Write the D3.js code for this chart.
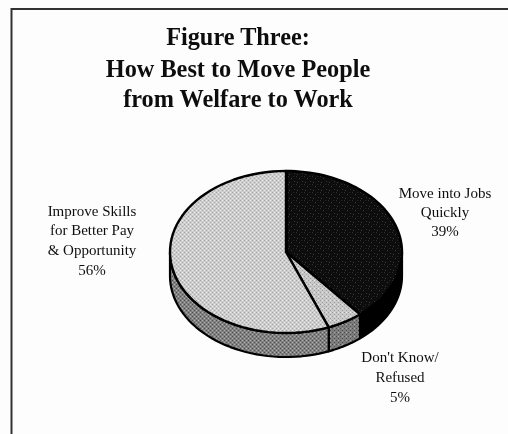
<!DOCTYPE html>
<html><head><meta charset="utf-8">
<script src="https://cdn.jsdelivr.net/npm/d3@7"></script>
<style>html,body{margin:0;padding:0;background:#fdfdfd}svg{display:block}
text{font-family:"Liberation Serif",serif;fill:#111}</style></head>
<body><div id="c"></div>
<script>
const titleLines = ["Figure Three:", "How Best to Move People", "from Welfare to Work"];
const categories = ["Move into Jobs Quickly", "Don't Know/Refused", "Improve Skills for Better Pay & Opportunity"];
const values = [39, 5, 56];
const labelLines = [["Move into Jobs", "Quickly", "39%"], ["Don't Know/", "Refused", "5%"], ["Improve Skills", "for Better Pay", "& Opportunity", "56%"]];

const W = 508, H = 434, cx = 286, cy = 252, rx = 116, ry = 81, depth = 24;
const svg = d3.select("#c").append("svg").attr("width", W).attr("height", H);
const defs = svg.append("defs");

function pattern(id, bg, dots, size) {
  const p = defs.append("pattern").attr("id", id).attr("patternUnits", "userSpaceOnUse")
    .attr("width", size).attr("height", size);
  p.append("rect").attr("width", size).attr("height", size).attr("fill", bg);
  dots.forEach(d => p.append("rect").attr("x", d[0]).attr("y", d[1]).attr("width", 1).attr("height", 1).attr("fill", d[2]));
}
pattern("pDark", "#0a0a0a", [[0,0,"#2e2e2e"],[3,2,"#3a3a3a"],[6,5,"#303030"],[1,6,"#3c3c3c"],[5,0,"#262626"]], 8);
pattern("pLight", "#cdcdcd", [[0,0,"#a2a2a2"],[2,2,"#a8a8a8"],[2,0,"#ececec"],[0,2,"#e6e6e6"]], 4);
pattern("pSmall", "#c8c8c8", [[0,0,"#9a9a9a"],[2,2,"#a0a0a0"],[2,0,"#e8e8e8"]], 4);
pattern("pWallGray", "#808080", [[0,0,"#505050"],[2,2,"#585858"],[2,0,"#b4b4b4"],[0,2,"#acacac"]], 4);
pattern("pWallDark", "#7c7c7c", [[0,0,"#4c4c4c"],[2,2,"#505050"],[2,0,"#acacac"]], 4);

const filter = defs.append("filter").attr("id", "soft").attr("x", "-5%").attr("y", "-5%").attr("width", "110%").attr("height", "110%");
filter.append("feGaussianBlur").attr("stdDeviation", 0.5);

const root = svg.append("g").attr("filter", "url(#soft)");

// frame
root.append("path").attr("d", d3.line()([[W, 9], [11.5, 9], [11.5, H]]))
  .attr("fill", "none").attr("stroke", "#333").attr("stroke-width", 2);

// title
root.selectAll("text.t").data(titleLines).join("text").attr("class", "t")
  .attr("x", 238).attr("y", (d, i) => [45, 77, 107][i]).attr("text-anchor", "middle")
  .attr("font-weight", "bold").attr("font-size", 24.3).text(d => d);

// pie
const arcs = d3.pie().sort(null).value(d => d)(values);
const ex = a => cx + rx * Math.sin(a), ey = a => cy - ry * Math.cos(a);

// side walls: visible part of each slice, front half of the ellipse
const wallFill = ["#000", "url(#pWallDark)", "url(#pWallGray)"];
const wall = d3.line();
function wallPath(a0, a1) {
  const n = 40, top = d3.range(n + 1).map(i => a0 + (a1 - a0) * i / n);
  const pts = top.map(a => [ex(a), ey(a)]).concat(top.slice().reverse().map(a => [ex(a), ey(a) + depth]));
  return wall(pts) + "Z";
}
arcs.forEach((d, i) => {
  const a0 = Math.max(d.startAngle, Math.PI / 2), a1 = Math.min(d.endAngle, 3 * Math.PI / 2);
  if (a1 > a0) root.append("path").attr("d", wallPath(a0, a1)).attr("fill", wallFill[i])
    .attr("stroke", "#000").attr("stroke-width", 2.2).attr("stroke-linejoin", "round");
});

// top faces
const topFill = ["url(#pDark)", "url(#pSmall)", "url(#pLight)"];
const faces = root.append("g");
arcs.forEach((d, i) => {
  const n = 60, pts = [[cx, cy]];
  d3.range(n + 1).forEach(k => {
    const a = d.startAngle + (d.endAngle - d.startAngle) * k / n;
    pts.push([ex(a), ey(a)]);
  });
  faces.append("path").attr("d", d3.line()(pts) + "Z").attr("fill", topFill[i])
    .attr("stroke", "#000").attr("stroke-width", 2.4).attr("stroke-linejoin", "round");
});

// labels
const labelX = [445, 400, 92];
const labelY = [[198, 217, 236], [362, 382, 402], [216, 235, 255, 275]];
labelLines.forEach((lines, i) => {
  lines.forEach((t, j) => {
    root.append("text").attr("x", labelX[i]).attr("y", labelY[i][j])
      .attr("text-anchor", "middle").attr("font-size", 15).text(t);
  });
});
</script></body></html>
